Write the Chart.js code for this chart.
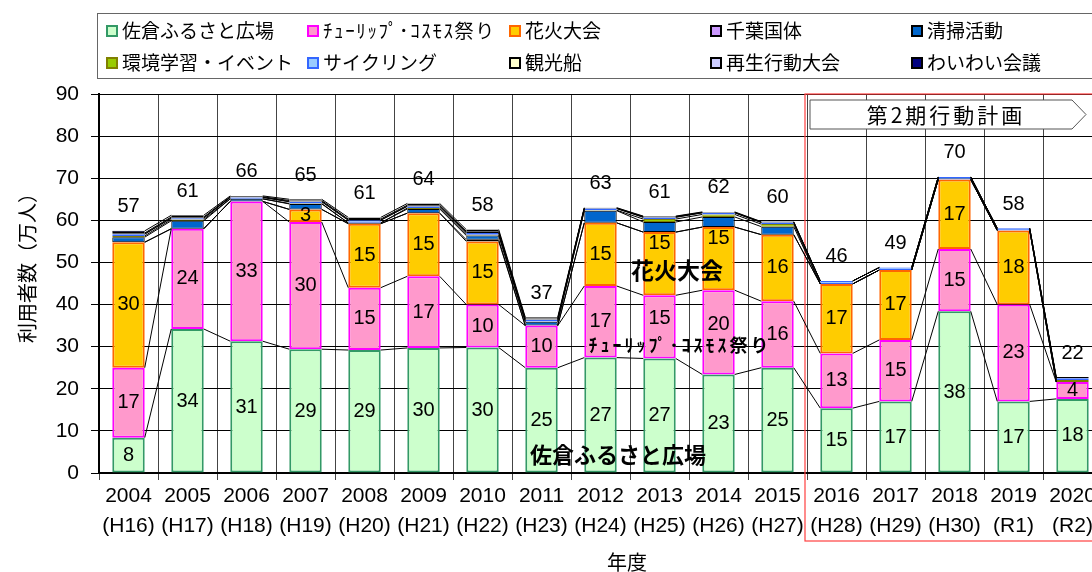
<!DOCTYPE html>
<html lang="ja">
<head>
<meta charset="utf-8">
<title>利用者数の推移</title>
<script src="https://cdn.jsdelivr.net/npm/chart.js@4.4.1/dist/chart.umd.min.js"></script>
<style>
  html, body { margin: 0; padding: 0; background: #fff; overflow: hidden; }
  #wrap { width: 1092px; height: 572px; overflow: hidden; }
  canvas { display: block; }
</style>
</head>
<body>
<div id="wrap"><canvas id="chart" width="1140" height="572"></canvas></div>
<script>
// 年度
const years = ['2004', '2005', '2006', '2007', '2008', '2009', '2010', '2011', '2012',
               '2013', '2014', '2015', '2016', '2017', '2018', '2019', '2020'];
const eras = ['(H16)', '(H17)', '(H18)', '(H19)', '(H20)', '(H21)', '(H22)', '(H23)', '(H24)',
              '(H25)', '(H26)', '(H27)', '(H28)', '(H29)', '(H30)', ' (R1) ', ' (R2) '];
const yTicks = [0, 10, 20, 30, 40, 50, 60, 70, 80, 90];

// 利用者数(万人)
const sakura    = [8.4, 34.2, 31.3, 29.4, 29.2, 29.7, 29.8, 25.0, 27.4, 27.2, 23.4, 25.0, 15.4, 17.0, 38.4, 17.0, 17.6];
const tulip     = [16.6, 23.8, 33.2, 30.2, 14.8, 17.0, 10.2, 10.0, 17.0, 15.0, 20.0, 15.8, 13.0, 14.6, 14.8, 23.0, 4.0];
const hanabi    = [29.8, 0, 0, 3.0, 15.2, 15.0, 15.0, 0, 15.0, 15.0, 15.0, 15.8, 16.5, 16.6, 16.5, 17.6, 0];
const chiba     = [0, 0, 0, 0, 0, 0, 0.4, 0, 0, 0, 0, 0, 0, 0, 0, 0, 0];
const seisou    = [1.2, 1.9, 0.6, 1.3, 0.2, 1.0, 1.0, 0.9, 2.9, 2.4, 2.4, 1.9, 0, 0, 0, 0, 0];
const kankyo    = [0.3, 0.3, 0, 0.1, 0, 0.2, 0.2, 0.1, 0.1, 0.7, 0.6, 0.6, 0, 0, 0, 0, 0.5];
const cycling   = [0.4, 0.3, 0.3, 0.4, 0.6, 0.4, 0.4, 0.4, 0.4, 0.4, 0.4, 0.4, 0.7, 0.6, 0.6, 0.5, 0.4];
const kankousen = [0.1, 0.1, 0.1, 0.1, 0.1, 0.1, 0.2, 0.1, 0, 0.1, 0, 0, 0, 0, 0, 0, 0];
const saisei    = [0.2, 0.2, 0.1, 0.2, 0.2, 0.2, 0.2, 0.2, 0.1, 0.1, 0.1, 0.1, 0, 0, 0, 0, 0];
const waiwai    = [0.5, 0.4, 0.2, 0.3, 0.4, 0.4, 0.4, 0.3, 0.1, 0.1, 0.1, 0.1, 0, 0, 0, 0, 0.3];
const totals    = [57, 61, 66, 65, 61, 64, 58, 37, 63, 61, 62, 60, 46, 49, 70, 58, 22];

const FONT = '"Liberation Sans", "Noto Sans CJK JP", sans-serif';
const JP = '"Noto Sans CJK JP", sans-serif';
Chart.defaults.font.family = FONT;
Chart.defaults.color = '#000';

function series(label, data, bg, border, bw) {
    return {
        label: label, data: data, backgroundColor: bg, borderColor: border,
        borderWidth: bw, borderSkipped: false, stack: 's',
        categoryPercentage: 1, barPercentage: 0.55
    };
}

const datasets = [
    series('佐倉ふるさと広場', sakura, '#ccffcc', '#339966', 2),
    series('ﾁｭｰﾘｯﾌﾟ･ｺｽﾓｽ祭り', tulip, '#ff99cc', '#ff00ff', 2),
    series('花火大会', hanabi, '#ffcc00', '#ff6600', 2),
    series('千葉国体', chiba, '#cc99ff', '#000', 1),
    series('清掃活動', seisou, '#0066cc', '#000', 1),
    series('環境学習・イベント', kankyo, '#99cc00', '#808000', 1),
    series('サイクリング', cycling, '#99ccff', '#3366ff', 1),
    series('観光船', kankousen, '#ffffcc', '#000', 1),
    series('再生行動大会', saisei, '#ccccff', '#000', 1),
    series('わいわい会議', waiwai, '#000080', '#000', 1)
];

// labels moved up a bit so they don't sit under the notes (series index, year index, px)
const labelNudge = { '1-9': -8, '1-10': -8, '2-9': -20, '2-10': -20 };

// series lines, segment labels, totals, legend and notes
const decorations = {
    id: 'decorations',
    beforeDatasetsDraw(chart) {
        const {ctx, chartArea} = chart;
        const x = chart.scales.x;
        // red frame for 第2期
        const left = (x.getPixelForValue(11) + x.getPixelForValue(12)) / 2 - 2;
        ctx.save();
        ctx.strokeStyle = '#ff4040';
        ctx.lineWidth = 1.2;
        ctx.strokeRect(left, chartArea.top, 1200, 541 - chartArea.top);
        ctx.restore();
    },
    afterDatasetsDraw(chart) {
        const {ctx} = chart;
        const x = chart.scales.x, y = chart.scales.y;
        const half = chart.getDatasetMeta(0).data[0].width / 2;
        const n = years.length;

        // series lines between bars
        ctx.save();
        ctx.strokeStyle = '#000';
        ctx.lineWidth = 1;
        const cum = new Array(n).fill(0);
        chart.data.datasets.forEach(ds => {
            ds.data.forEach((v, i) => { cum[i] += v; });
            ctx.beginPath();
            for (let i = 0; i < n - 1; i++) {
                ctx.moveTo(x.getPixelForValue(i) + half, y.getPixelForValue(cum[i]));
                ctx.lineTo(x.getPixelForValue(i + 1) - half, y.getPixelForValue(cum[i + 1]));
            }
            ctx.stroke();
        });

        // values inside the three main segments
        ctx.font = '20px ' + FONT;
        ctx.fillStyle = '#000';
        ctx.textAlign = 'center';
        ctx.textBaseline = 'middle';
        const base = new Array(n).fill(0);
        [sakura, tulip, hanabi].forEach((arr, s) => {
            arr.forEach((v, i) => {
                const r = Math.round(v);
                if (r >= 3) {
                    const dy = labelNudge[s + '-' + i] || 0;
                    ctx.fillText(String(r), x.getPixelForValue(i), y.getPixelForValue(base[i] + v / 2) + dy);
                }
                base[i] += v;
            });
        });

        // totals above bars
        totals.forEach((t, i) => {
            ctx.fillText(String(t), x.getPixelForValue(i), y.getPixelForValue(cum[i]) - 24);
        });

        // notes inside the plot
        ctx.font = 'bold 23px ' + JP;
        ctx.fillText('花火大会', 677, 270);
        ctx.font = 'bold 18px ' + JP;
        ctx.letterSpacing = '3px';
        ctx.fillText('ﾁｭｰﾘｯﾌﾟ･ｺｽﾓｽ祭り', 680, 345);
        ctx.letterSpacing = '0px';
        ctx.font = 'bold 22px ' + JP;
        ctx.fillText('佐倉ふるさと広場', 618, 455);

        // 第2期行動計画 arrow
        const ax = (x.getPixelForValue(11) + x.getPixelForValue(12)) / 2 + 3;
        ctx.beginPath();
        ctx.moveTo(ax, 100);
        ctx.lineTo(1072, 100);
        ctx.lineTo(1086, 114.5);
        ctx.lineTo(1072, 129);
        ctx.lineTo(ax, 129);
        ctx.closePath();
        ctx.fillStyle = '#fff';
        ctx.fill();
        ctx.strokeStyle = '#555';
        ctx.lineWidth = 1;
        ctx.stroke();
        ctx.fillStyle = '#000';
        ctx.font = '21px ' + JP;
        ctx.letterSpacing = '3px';
        ctx.fillText('第2期行動計画', 946, 115);
        ctx.letterSpacing = '0px';

        // axis titles
        ctx.font = '20px ' + JP;
        ctx.fillText('年度', 627, 562);
        ctx.save();
        ctx.translate(27, 263);
        ctx.rotate(-Math.PI / 2);
        ctx.fillText('利用者数（万人）', 0, 0);
        ctx.restore();

        // legend box
        ctx.fillStyle = '#fff';
        ctx.fillRect(97.5, 13.5, 1100, 65);
        ctx.strokeStyle = '#666';
        ctx.lineWidth = 1;
        ctx.strokeRect(97.5, 13.5, 1100, 65);
        const cols = [107, 308, 510, 711, 912];
        const rows = [31, 63];
        ctx.textAlign = 'left';
        chart.data.datasets.forEach((ds, j) => {
            const lx = cols[j % 5], ly = rows[Math.floor(j / 5)];
            ctx.fillStyle = ds.backgroundColor;
            ctx.fillRect(lx, ly - 5, 10, 10);
            ctx.strokeStyle = ds.borderColor;
            ctx.lineWidth = 2;
            ctx.strokeRect(lx, ly - 5, 10, 10);
            ctx.fillStyle = '#000';
            ctx.font = '19px ' + JP;
            ctx.letterSpacing = j === 1 ? '1.6px' : '0px';
            ctx.fillText(ds.label, lx + 15, ly);
        });
        ctx.letterSpacing = '0px';
        ctx.restore();
    }
};

new Chart(document.getElementById('chart'), {
    type: 'bar',
    data: {
        labels: years.map((yr, i) => [yr, eras[i]]),
        datasets: datasets
    },
    options: {
        responsive: false,
        animation: false,
        layout: { padding: { top: 94, right: 38, left: 0, bottom: 0 } },
        plugins: {
            legend: { display: false },
            tooltip: { enabled: false }
        },
        scales: {
            x: {
                stacked: true,
                grid: { color: '#444', lineWidth: 1, tickLength: 7, offset: true },
                border: { color: '#000', width: 2 },
                ticks: {
                    font: { size: 21, lineHeight: 1.45 },
                    color: '#000', padding: 1,
                    maxRotation: 0, autoSkip: false
                },
                afterFit(scale) { scale.height = 99; }
            },
            y: {
                stacked: true,
                min: 0, max: 90,
                afterBuildTicks(scale) { scale.ticks = yTicks.map(v => ({value: v})); },
                grid: { color: '#000', lineWidth: 1, tickLength: 8 },
                border: { color: '#000', width: 2 },
                ticks: { font: { size: 21 }, color: '#000', padding: 12 },
                afterFit(scale) { scale.width = 99; }
            }
        }
    },
    plugins: [decorations]
});
</script>
</body>
</html>
